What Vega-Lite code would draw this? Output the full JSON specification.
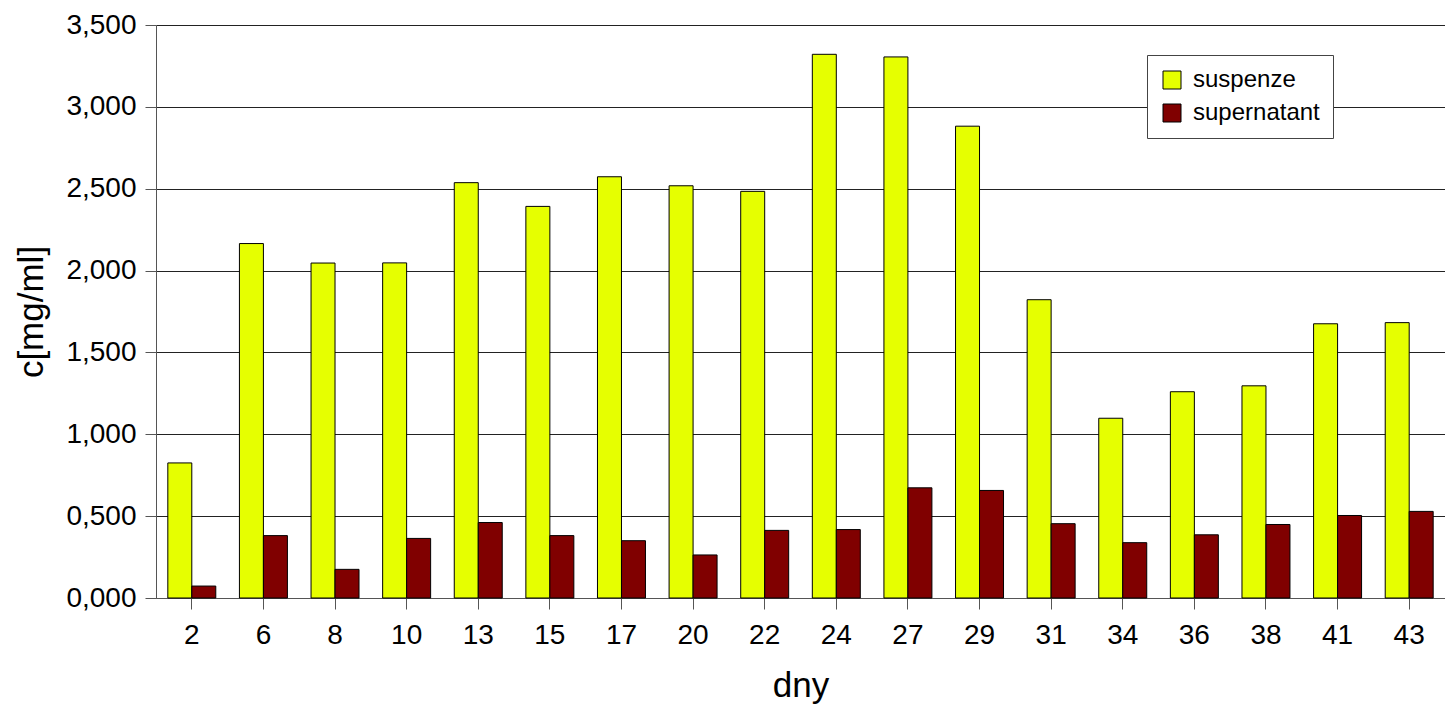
{
  "$schema": "https://vega.github.io/schema/vega-lite/v6.json",
  "width": 1289,
  "height": 573,
  "autosize": {"type": "none"},
  "padding": {"left": 156, "top": 25, "right": 0, "bottom": 111},
  "background": "white",
  "data": {
    "values": [
      {"den": 2, "vzorek": "suspenze", "c": 0.825},
      {"den": 2, "vzorek": "supernatant", "c": 0.073},
      {"den": 6, "vzorek": "suspenze", "c": 2.165},
      {"den": 6, "vzorek": "supernatant", "c": 0.381},
      {"den": 8, "vzorek": "suspenze", "c": 2.046},
      {"den": 8, "vzorek": "supernatant", "c": 0.175},
      {"den": 10, "vzorek": "suspenze", "c": 2.047},
      {"den": 10, "vzorek": "supernatant", "c": 0.364},
      {"den": 13, "vzorek": "suspenze", "c": 2.537},
      {"den": 13, "vzorek": "supernatant", "c": 0.461},
      {"den": 15, "vzorek": "suspenze", "c": 2.392},
      {"den": 15, "vzorek": "supernatant", "c": 0.381},
      {"den": 17, "vzorek": "suspenze", "c": 2.573},
      {"den": 17, "vzorek": "supernatant", "c": 0.350},
      {"den": 20, "vzorek": "suspenze", "c": 2.518},
      {"den": 20, "vzorek": "supernatant", "c": 0.263},
      {"den": 22, "vzorek": "suspenze", "c": 2.484},
      {"den": 22, "vzorek": "supernatant", "c": 0.413},
      {"den": 24, "vzorek": "suspenze", "c": 3.321},
      {"den": 24, "vzorek": "supernatant", "c": 0.418},
      {"den": 27, "vzorek": "suspenze", "c": 3.305},
      {"den": 27, "vzorek": "supernatant", "c": 0.673},
      {"den": 29, "vzorek": "suspenze", "c": 2.882},
      {"den": 29, "vzorek": "supernatant", "c": 0.657},
      {"den": 31, "vzorek": "suspenze", "c": 1.822},
      {"den": 31, "vzorek": "supernatant", "c": 0.454},
      {"den": 34, "vzorek": "suspenze", "c": 1.098},
      {"den": 34, "vzorek": "supernatant", "c": 0.338},
      {"den": 36, "vzorek": "suspenze", "c": 1.260},
      {"den": 36, "vzorek": "supernatant", "c": 0.386},
      {"den": 38, "vzorek": "suspenze", "c": 1.296},
      {"den": 38, "vzorek": "supernatant", "c": 0.449},
      {"den": 41, "vzorek": "suspenze", "c": 1.675},
      {"den": 41, "vzorek": "supernatant", "c": 0.504},
      {"den": 43, "vzorek": "suspenze", "c": 1.682},
      {"den": 43, "vzorek": "supernatant", "c": 0.529}
    ]
  },
  "mark": {"type": "bar", "stroke": "#000000", "strokeWidth": 1},
  "encoding": {
    "x": {
      "field": "den",
      "type": "ordinal",
      "sort": "ascending",
      "scale": {"paddingInner": 0.33, "paddingOuter": 0.165},
      "axis": {
        "title": "dny",
        "labelAngle": 0,
        "labelFontSize": 28,
        "titleFontSize": 35,
        "titleFontWeight": "normal",
        "titlePadding": 19,
        "labelPadding": 12,
        "tickSize": 11,
        "tickColor": "#555555",
        "domainColor": "#555555",
        "grid": false
      }
    },
    "xOffset": {
      "field": "vzorek",
      "type": "nominal",
      "sort": ["suspenze", "supernatant"],
      "scale": {"paddingInner": 0, "paddingOuter": 0}
    },
    "y": {
      "field": "c",
      "type": "quantitative",
      "scale": {"domain": [0, 3.5], "nice": false},
      "axis": {
        "title": "c[mg/ml]",
        "values": [0, 0.5, 1, 1.5, 2, 2.5, 3, 3.5],
        "labelExpr": "replace(format(datum.value, '.3f'), '.', ',')",
        "labelFontSize": 28,
        "titleFontSize": 35,
        "titleFontWeight": "normal",
        "titlePadding": 16,
        "labelPadding": 9,
        "tickSize": 11,
        "tickColor": "#555555",
        "domainColor": "#555555",
        "grid": true,
        "gridColor": "#222222",
        "gridWidth": 1
      }
    },
    "fill": {
      "field": "vzorek",
      "type": "nominal",
      "sort": ["suspenze", "supernatant"],
      "scale": {"domain": ["suspenze", "supernatant"], "range": ["#e6ff00", "#800000"]},
      "legend": {
        "title": null,
        "orient": "none",
        "legendX": 991,
        "legendY": 30,
        "symbolType": "square",
        "symbolSize": 324,
        "symbolStrokeColor": "#000000",
        "symbolStrokeWidth": 1,
        "labelFontSize": 24,
        "labelOffset": 9,
        "rowPadding": 9,
        "padding": 13,
        "strokeColor": "#444444",
        "fillColor": "white"
      }
    }
  },
  "config": {
    "font": "Liberation Sans",
    "view": {"stroke": null},
    "axis": {"labelColor": "#000000", "titleColor": "#000000"},
    "legend": {"labelColor": "#000000"}
  }
}
